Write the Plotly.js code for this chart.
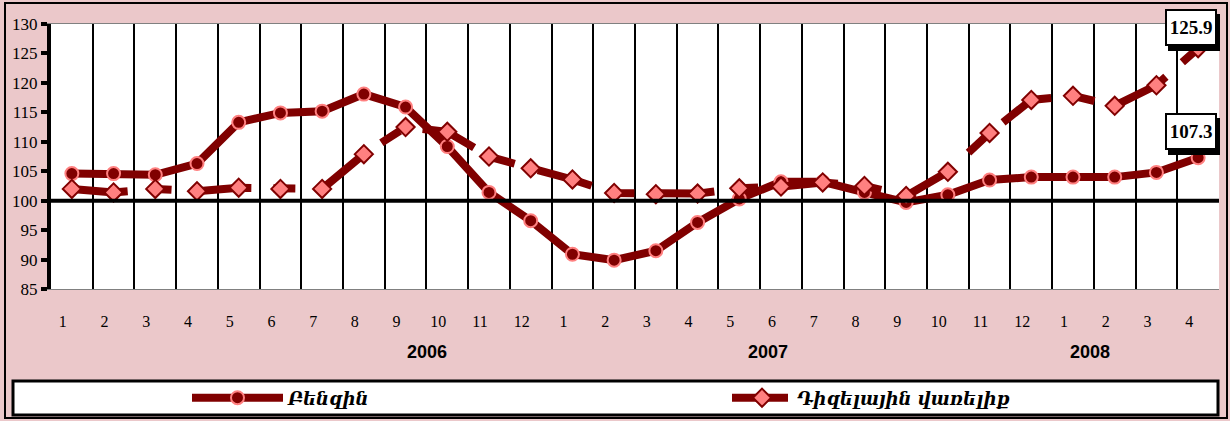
<!DOCTYPE html>
<html>
<head>
<meta charset="utf-8">
<script src="https://cdn.plot.ly/plotly-3.0.1.min.js"></script>
<style>
html,body{margin:0;padding:0;background:#ebc8ca;}
#chart{width:1230px;height:421px;}
</style>
</head>
<body>
<div id="chart"></div>
<script>
// Categories: months 2006-1 .. 2008-4
const categories = [
  "2006-1","2006-2","2006-3","2006-4","2006-5","2006-6","2006-7","2006-8","2006-9","2006-10","2006-11","2006-12",
  "2007-1","2007-2","2007-3","2007-4","2007-5","2007-6","2007-7","2007-8","2007-9","2007-10","2007-11","2007-12",
  "2008-1","2008-2","2008-3","2008-4"
];
const monthLabels = ["1","2","3","4","5","6","7","8","9","10","11","12",
  "1","2","3","4","5","6","7","8","9","10","11","12",
  "1","2","3","4"];
const yearLabels = ["2006","2007","2008"];

const seriesNames = ["Բենզին", "Դիզելային վառելիք"];
const benzin = [104.6,104.6,104.4,106.3,113.3,114.9,115.2,118.1,115.9,109.2,101.4,96.6,
  90.9,89.9,91.5,96.3,100.3,103.2,103.2,101.4,99.7,101.0,103.5,104.0,
  104.0,104.0,104.8,107.3];
const diesel = [102.0,101.4,102.0,101.6,102.2,102.0,102.0,107.9,112.5,111.7,107.5,105.5,
  103.6,101.3,101.1,101.2,102.1,102.4,103.1,102.5,100.8,104.9,111.5,117.1,
  117.8,116.1,119.6,125.9];
const yTicks = [85,90,95,100,105,110,115,120,125,130];

const dark = "#800000";
const pink = "#ff8080";
const serif = "Liberation Serif, Times New Roman, serif";

const traces = [
  {
    x: categories, y: benzin, name: seriesNames[0], type: "scatter", mode: "lines+markers",
    line: {color: dark, width: 8},
    marker: {symbol: "circle", size: 13, color: dark, line: {color: pink, width: 2}},
    cliponaxis: false, legend: "legend"
  },
  {
    x: categories, y: diesel, name: seriesNames[1], type: "scatter", mode: "lines+markers",
    line: {color: dark, width: 8, dash: "56px,22px,22px,24px"},
    marker: {symbol: "diamond", size: 14, color: pink, line: {color: dark, width: 2}},
    cliponaxis: false, legend: "legend2"
  }
];

const lastIdx = categories.length - 1;
const annotations = [];
// value labels for the last points (shadow + box)
[[benzin[lastIdx], 26], [diesel[lastIdx], 21]].forEach(function(p){
  annotations.push({
    x: lastIdx, y: p[0], xref: "x", yref: "y", text: " ", showarrow: false,
    bgcolor: "#000", width: 46, height: 31, borderpad: 1, borderwidth: 2, bordercolor: "#000",
    xshift: -4, yshift: p[1] - 5
  });
  annotations.push({
    x: lastIdx, y: p[0], xref: "x", yref: "y", text: "<b>" + p[0].toFixed(1) + "</b>", showarrow: false,
    bgcolor: "#fff", width: 46, height: 31, borderpad: 1, borderwidth: 2, bordercolor: "#000",
    font: {family: serif, size: 19, color: "#000"},
    xshift: -7, yshift: p[1]
  });
});
// year labels
const yearPos = [8.51, 16.69, 24.41];
yearLabels.forEach(function(t, i){
  annotations.push({
    x: yearPos[i], y: -0.238, xref: "x", yref: "paper", text: "<b>" + t + "</b>", showarrow: false,
    font: {family: "Liberation Sans Narrow, Liberation Sans, Arial, sans-serif", size: 18, color: "#000"},
    xanchor: "center", yanchor: "middle"
  });
});

const L = 51, R = 11, T = 24, B = 132;
const W = 1230 - L - R, H = 421 - T - B;
function px(xp){ return (xp - L) / W; }
function py(yp){ return (421 - B - yp) / H; }

const shapes = [
  // outer frame
  {type: "rect", xref: "paper", yref: "paper", x0: px(5), x1: px(1227), y0: py(418), y1: py(3),
   line: {color: "#000", width: 2}, fillcolor: "rgba(0,0,0,0)", layer: "below"},
  // legend box
  {type: "rect", xref: "paper", yref: "paper", x0: px(13), x1: px(1218), y0: py(415), y1: py(381),
   line: {color: "#000", width: 3}, fillcolor: "#ffffff", layer: "below"},
  // reference line at 100
  {type: "line", xref: "paper", yref: "y", x0: 0, x1: 1, y0: 100, y1: 100,
   line: {color: "#000", width: 4}, layer: "above"}
];

const legendFont = {family: "DejaVu Serif, serif", size: 18, color: "#000", style: "italic", weight: "bold"};

const layout = {
  width: 1230, height: 421,
  margin: {l: L, r: R, t: T, b: B, autoexpand: false},
  paper_bgcolor: "#ebc8ca",
  plot_bgcolor: "#ffffff",
  showlegend: true,
  legend: {
    orientation: "h", x: px(187), y: py(398), xanchor: "left", yanchor: "middle",
    bgcolor: "rgba(0,0,0,0)", borderwidth: 0, itemwidth: 91, font: legendFont
  },
  legend2: {
    orientation: "h", x: px(727), y: py(398), xanchor: "left", yanchor: "middle",
    bgcolor: "rgba(0,0,0,0)", borderwidth: 0, itemwidth: 60, font: legendFont
  },
  xaxis: {
    type: "category", categoryorder: "array", categoryarray: categories,
    range: [-0.5, categories.length - 0.5],
    tickmode: "array", tickvals: categories, ticktext: monthLabels,
    tickson: "boundaries", ticks: "", showgrid: true, gridcolor: "#000", gridwidth: 2,
    showline: true, linecolor: "#808080", linewidth: 1, mirror: true,
    tickfont: {family: serif, size: 16, color: "#000"},
    ticklabelstandoff: 18, ticklabelshift: -9,
    zeroline: false, fixedrange: true
  },
  yaxis: {
    range: [85, 130], tickmode: "array", tickvals: yTicks,
    ticks: "outside", ticklen: 6, tickwidth: 4, tickcolor: "#000",
    showline: true, linecolor: "#000", linewidth: 4,
    showgrid: false, zeroline: false,
    tickfont: {family: serif, size: 17, color: "#000"},
    fixedrange: true
  },
  shapes: shapes,
  annotations: annotations
};

Plotly.newPlot("chart", traces, layout, {displayModeBar: false, staticPlot: true});
</script>
</body>
</html>
